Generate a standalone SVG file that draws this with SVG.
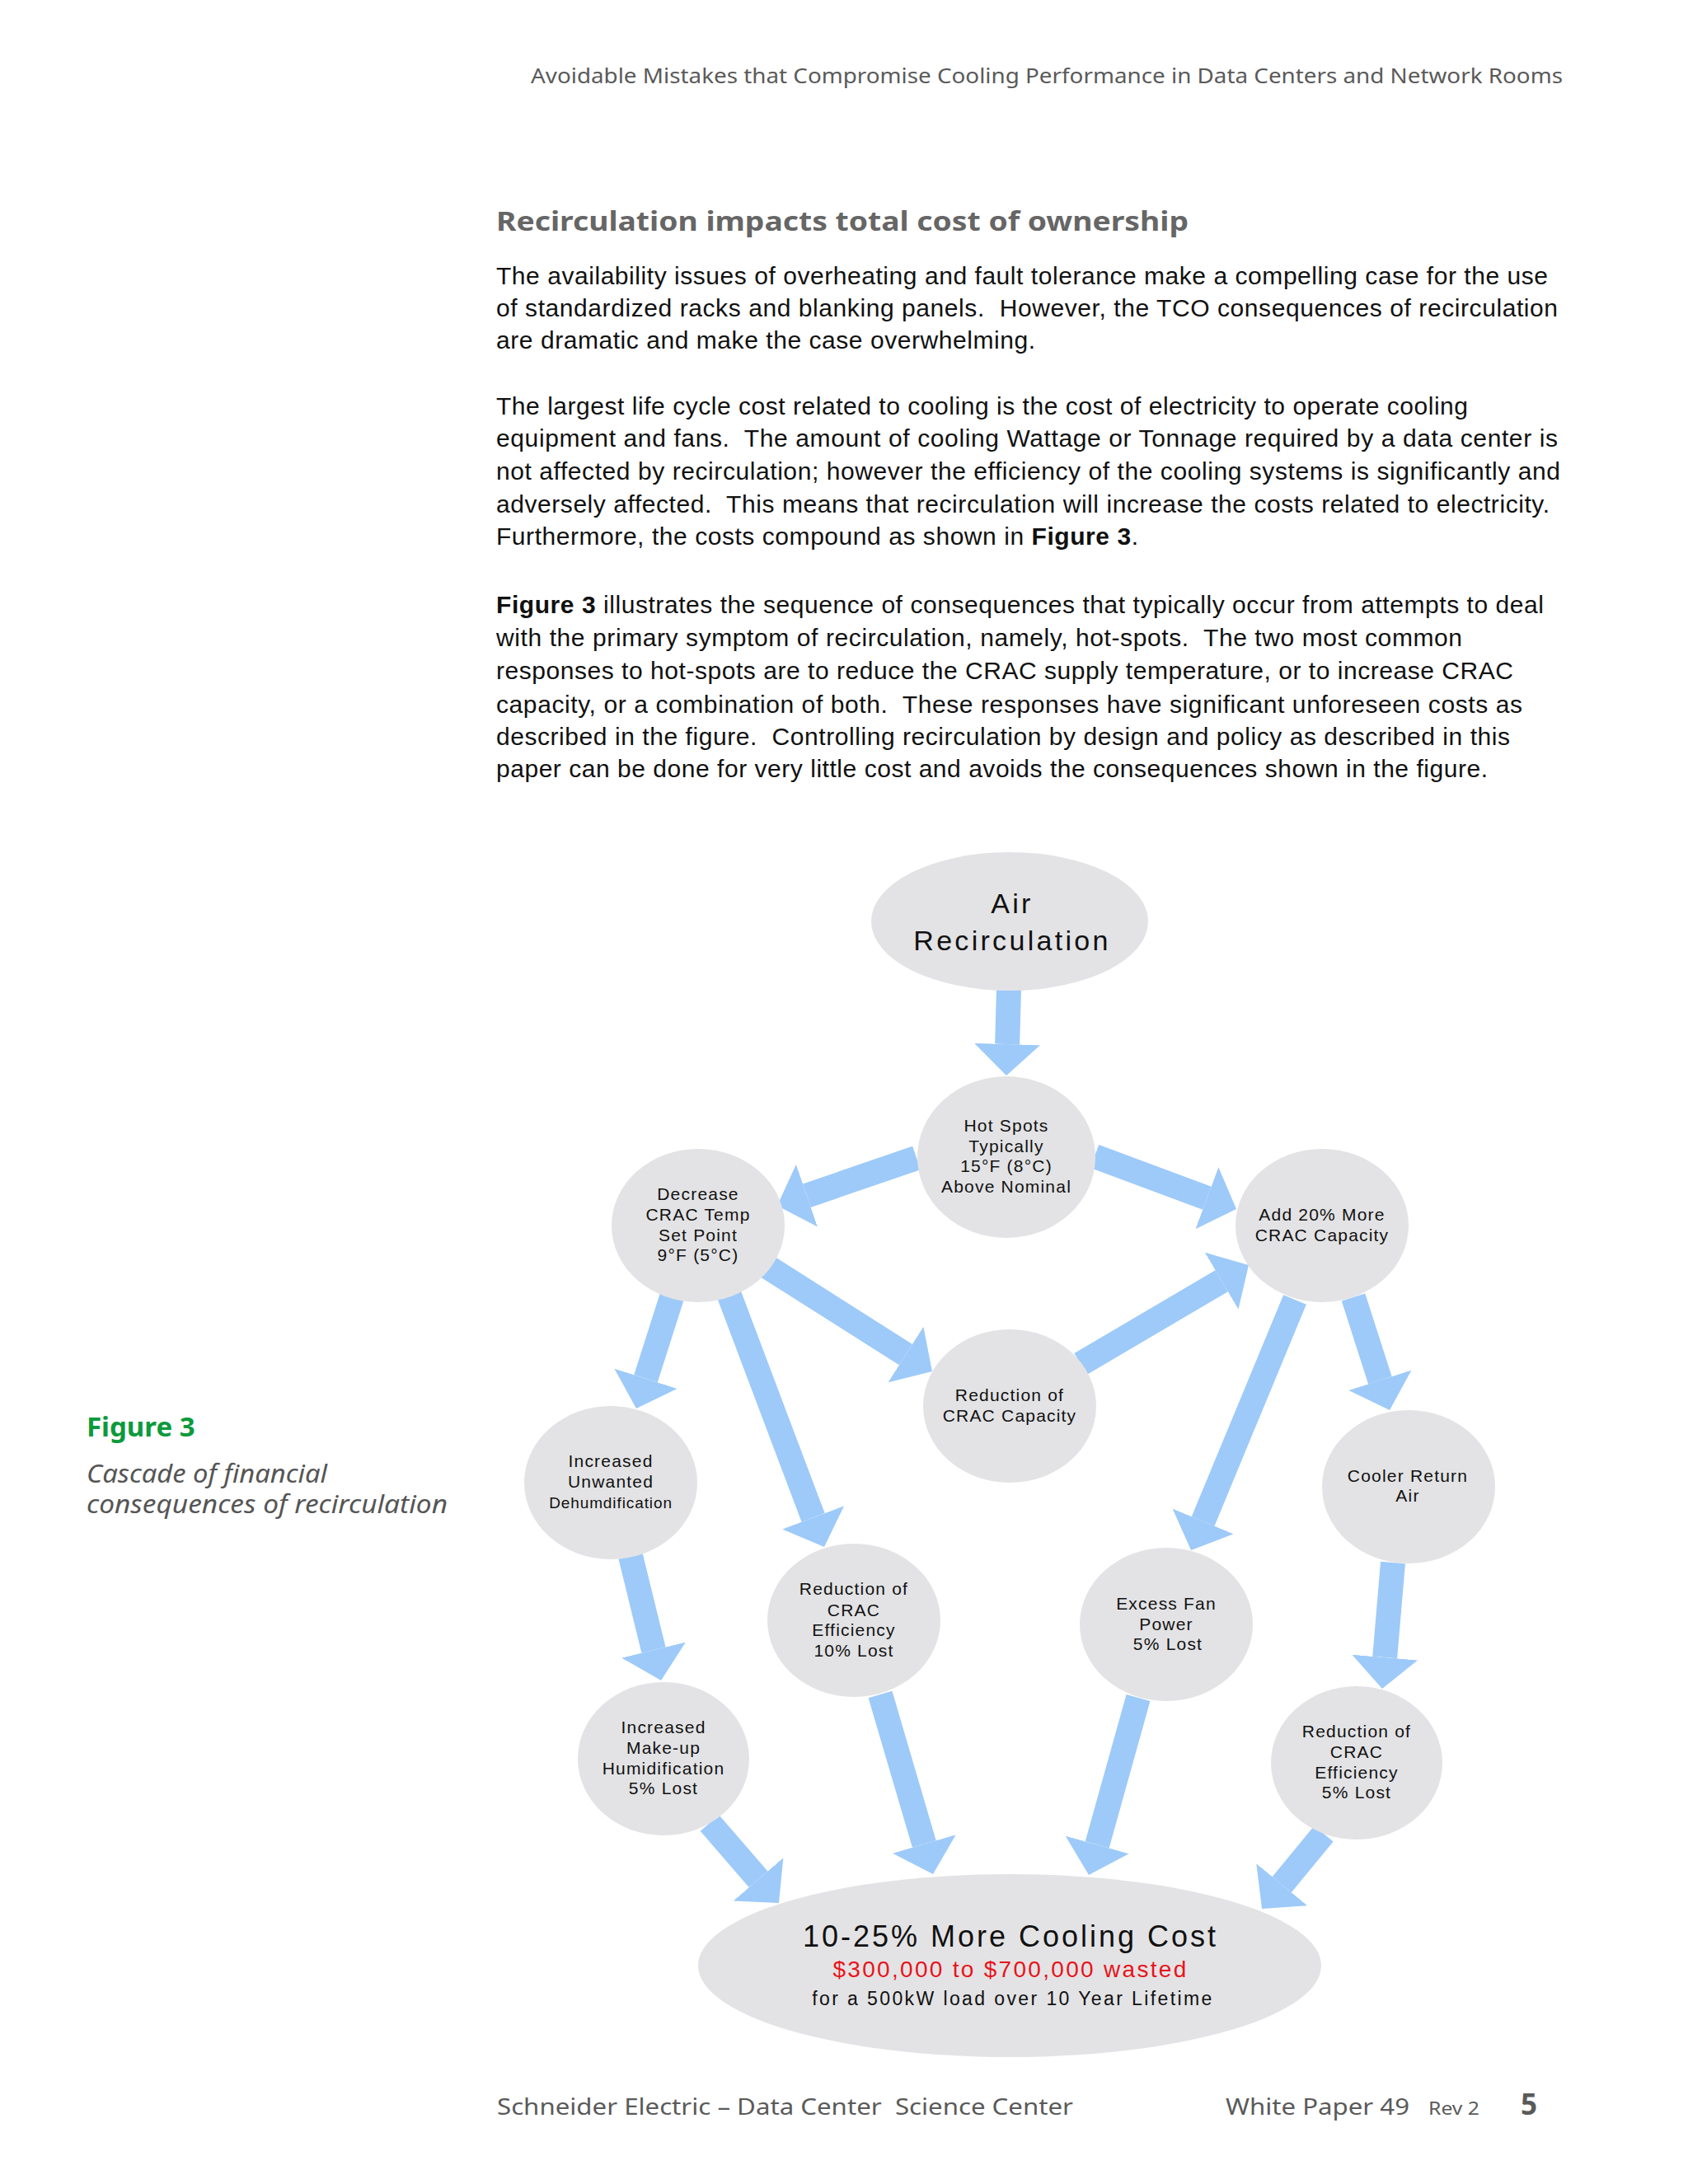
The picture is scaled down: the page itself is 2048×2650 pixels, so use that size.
<svg xmlns="http://www.w3.org/2000/svg" width="2048" height="2650" viewBox="0 0 2048 2650">
<defs>
<style>
.hdr{font-family:"Noto Sans","Liberation Sans",sans-serif;fill:#5a5a5a;white-space:pre}
.ttl{font-family:"Noto Sans","Liberation Sans",sans-serif;font-weight:bold;fill:#666666;font-size:32px}
.body{font-family:"Liberation Sans",Arial,sans-serif;font-size:30px;fill:#111111;white-space:pre}
.b{font-weight:bold}
.node{fill:#E3E3E5}
.nt{font-family:"Liberation Sans",Arial,sans-serif;font-size:21px;letter-spacing:1.2px;fill:#111111;text-anchor:middle}
.conn{stroke:#9DCAF9;stroke-width:30;fill:none;marker-end:url(#ah)}
.cap{font-family:"Noto Sans","Liberation Sans",sans-serif}
</style>
<marker id="ah" markerUnits="userSpaceOnUse" markerWidth="38" markerHeight="80" viewBox="0 0 38 80" refX="0" refY="40" orient="auto">
<path d="M0,0 L38,40 L0,80 Z" fill="#9DCAF9"/>
</marker>
</defs>
<rect width="2048" height="2650" fill="#ffffff"/>

<text class="hdr" x="1896" y="101" font-size="26" text-anchor="end" textLength="1252" lengthAdjust="spacingAndGlyphs">Avoidable Mistakes that Compromise Cooling Performance in Data Centers and Network Rooms</text>

<text class="ttl" x="602" y="280" textLength="840" lengthAdjust="spacingAndGlyphs">Recirculation impacts total cost of ownership</text>

<g id="body-text">
<text class="body" x="602" y="345" textLength="1276" lengthAdjust="spacing">The availability issues of overheating and fault tolerance make a compelling case for the use</text>
<text class="body" x="602" y="384" textLength="1288" lengthAdjust="spacing">of standardized racks and blanking panels.  However, the TCO consequences of recirculation</text>
<text class="body" x="602" y="423" textLength="654" lengthAdjust="spacing">are dramatic and make the case overwhelming.</text>
<text class="body" x="602" y="503" textLength="1179" lengthAdjust="spacing">The largest life cycle cost related to cooling is the cost of electricity to operate cooling</text>
<text class="body" x="602" y="542" textLength="1288" lengthAdjust="spacing">equipment and fans.  The amount of cooling Wattage or Tonnage required by a data center is</text>
<text class="body" x="602" y="582" textLength="1291" lengthAdjust="spacing">not affected by recirculation; however the efficiency of the cooling systems is significantly and</text>
<text class="body" x="602" y="622" textLength="1278" lengthAdjust="spacing">adversely affected.  This means that recirculation will increase the costs related to electricity.</text>
<text class="body" x="602" y="661" textLength="779" lengthAdjust="spacing">Furthermore, the costs compound as shown in <tspan class="b">Figure 3</tspan>.</text>
<text class="body" x="602" y="744" textLength="1271" lengthAdjust="spacing"><tspan class="b">Figure 3</tspan> illustrates the sequence of consequences that typically occur from attempts to deal</text>
<text class="body" x="602" y="784" textLength="1172" lengthAdjust="spacing">with the primary symptom of recirculation, namely, hot-spots.  The two most common</text>
<text class="body" x="602" y="824" textLength="1234" lengthAdjust="spacing">responses to hot-spots are to reduce the CRAC supply temperature, or to increase CRAC</text>
<text class="body" x="602" y="865" textLength="1245" lengthAdjust="spacing">capacity, or a combination of both.  These responses have significant unforeseen costs as</text>
<text class="body" x="602" y="904" textLength="1230" lengthAdjust="spacing">described in the figure.  Controlling recirculation by design and policy as described in this</text>
<text class="body" x="602" y="943" textLength="1203" lengthAdjust="spacing">paper can be done for very little cost and avoids the consequences shown in the figure.</text>
</g>

<g id="caption">
<text class="cap" x="105" y="1743" font-size="33" font-weight="bold" fill="#0C9A3C">Figure 3</text>
<text class="cap" x="105" y="1799" font-size="30" font-style="italic" fill="#555555" textLength="292" lengthAdjust="spacingAndGlyphs">Cascade of financial</text>
<text class="cap" x="105" y="1836" font-size="30" font-style="italic" fill="#555555" textLength="438" lengthAdjust="spacingAndGlyphs">consequences of recirculation</text>
</g>

<g id="connectors">
<line class="conn" x1="1224" y1="1200" x2="1222.1" y2="1267.0"/>
<line class="conn" x1="1112" y1="1405" x2="978.9" y2="1450.7"/>
<line class="conn" x1="1328" y1="1403" x2="1464.4" y2="1453.7"/>
<line class="conn" x1="931" y1="1537" x2="1098.9" y2="1643.6"/>
<line class="conn" x1="1311" y1="1655" x2="1482.2" y2="1554.3"/>
<line class="conn" x1="815" y1="1574" x2="783.5" y2="1672.8"/>
<line class="conn" x1="885" y1="1572" x2="986.6" y2="1841.4"/>
<line class="conn" x1="765" y1="1888" x2="793.0" y2="2002.1"/>
<line class="conn" x1="1571" y1="1577" x2="1459.6" y2="1845.9"/>
<line class="conn" x1="1642" y1="1574" x2="1674.4" y2="1674.8"/>
<line class="conn" x1="1690" y1="1896" x2="1680.2" y2="2011.1"/>
<line class="conn" x1="861" y1="2212" x2="920.1" y2="2280.3"/>
<line class="conn" x1="1068" y1="2056" x2="1121.3" y2="2237.5"/>
<line class="conn" x1="1381" y1="2060" x2="1331.2" y2="2238.4"/>
<line class="conn" x1="1606" y1="2225" x2="1555.2" y2="2286.7"/>
</g>

<g id="node-air-recirculation">
<ellipse class="node" cx="1225" cy="1118" rx="168" ry="84"/>
<text class="nt" x="1228" y="1108" style="font-size:34px;letter-spacing:3.3px">Air</text>
<text class="nt" x="1228" y="1153" style="font-size:34px;letter-spacing:3.3px">Recirculation</text>
</g>

<g id="node-hot-spots">
<ellipse class="node" cx="1221" cy="1404" rx="108" ry="98"/>
<text class="nt" x="1221" y="1373">Hot Spots</text>
<text class="nt" x="1221" y="1398">Typically</text>
<text class="nt" x="1221" y="1422">15°F (8°C)</text>
<text class="nt" x="1221" y="1447">Above Nominal</text>
</g>

<g id="node-decrease-crac-temp">
<ellipse class="node" cx="847" cy="1487" rx="105" ry="93"/>
<text class="nt" x="847" y="1456">Decrease</text>
<text class="nt" x="847" y="1481">CRAC Temp</text>
<text class="nt" x="847" y="1506">Set Point</text>
<text class="nt" x="847" y="1530">9°F (5°C)</text>
</g>

<g id="node-add-crac-capacity">
<ellipse class="node" cx="1604" cy="1487" rx="105" ry="93"/>
<text class="nt" x="1604" y="1481">Add 20% More</text>
<text class="nt" x="1604" y="1506">CRAC Capacity</text>
</g>

<g id="node-reduction-crac-capacity">
<ellipse class="node" cx="1225" cy="1706" rx="105" ry="93"/>
<text class="nt" x="1225" y="1700">Reduction of</text>
<text class="nt" x="1225" y="1725">CRAC Capacity</text>
</g>

<g id="node-unwanted-dehumidification">
<ellipse class="node" cx="741" cy="1799" rx="105" ry="93"/>
<text class="nt" x="741" y="1780">Increased</text>
<text class="nt" x="741" y="1805">Unwanted</text>
<text class="nt" x="741" y="1830" style="font-size:19px;letter-spacing:0.9px">Dehumdification</text>
</g>

<g id="node-crac-efficiency-10">
<ellipse class="node" cx="1036" cy="1966" rx="105" ry="93"/>
<text class="nt" x="1036" y="1935">Reduction of</text>
<text class="nt" x="1036" y="1961">CRAC</text>
<text class="nt" x="1036" y="1985">Efficiency</text>
<text class="nt" x="1036" y="2010">10% Lost</text>
</g>

<g id="node-cooler-return-air">
<ellipse class="node" cx="1709" cy="1804" rx="105" ry="93"/>
<text class="nt" x="1708" y="1798">Cooler Return</text>
<text class="nt" x="1708" y="1822">Air</text>
</g>

<g id="node-excess-fan-power">
<ellipse class="node" cx="1415" cy="1971" rx="105" ry="93"/>
<text class="nt" x="1415" y="1953">Excess Fan</text>
<text class="nt" x="1415" y="1978">Power</text>
<text class="nt" x="1417" y="2002">5% Lost</text>
</g>

<g id="node-makeup-humidification">
<ellipse class="node" cx="805" cy="2134" rx="104" ry="93"/>
<text class="nt" x="805" y="2103">Increased</text>
<text class="nt" x="805" y="2128">Make-up</text>
<text class="nt" x="805" y="2153">Humidification</text>
<text class="nt" x="805" y="2177">5% Lost</text>
</g>

<g id="node-crac-efficiency-5">
<ellipse class="node" cx="1646" cy="2139" rx="104" ry="93"/>
<text class="nt" x="1646" y="2108">Reduction of</text>
<text class="nt" x="1646" y="2133">CRAC</text>
<text class="nt" x="1646" y="2158">Efficiency</text>
<text class="nt" x="1646" y="2182">5% Lost</text>
</g>

<g id="node-more-cooling-cost">
<ellipse class="node" cx="1225" cy="2385" rx="378" ry="111"/>
<text class="nt" x="1226" y="2362" style="font-size:36px;letter-spacing:3px">10-25% More Cooling Cost</text>
<text class="nt" x="1226" y="2399" style="font-size:28px;letter-spacing:2.3px;fill:#E8141B">$300,000 to $700,000 wasted</text>
<text class="nt" x="1229" y="2433" style="font-size:23px;letter-spacing:2.4px">for a 500kW load over 10 Year Lifetime</text>
</g>

<g id="footer">
<text class="hdr" x="603" y="2566" font-size="28" textLength="699" lengthAdjust="spacingAndGlyphs">Schneider Electric – Data Center  Science Center</text>
<text class="hdr" x="1487" y="2566" font-size="28" textLength="223" lengthAdjust="spacingAndGlyphs">White Paper 49</text>
<text class="hdr" x="1733" y="2566" font-size="22" textLength="62" lengthAdjust="spacingAndGlyphs">Rev 2</text>
<text class="hdr" x="1845" y="2566" font-size="35" font-weight="bold">5</text>
</g>
</svg>
